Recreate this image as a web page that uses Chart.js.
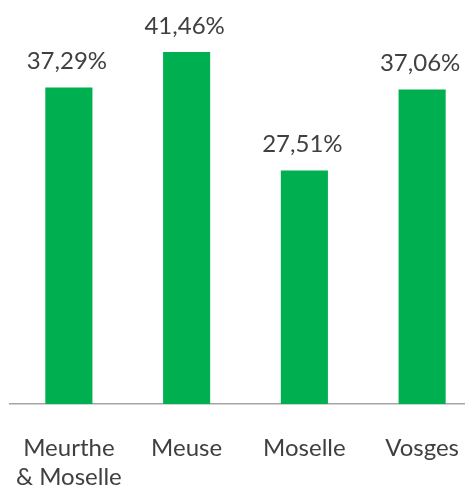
<!DOCTYPE html>
<html>
<head>
<meta charset="utf-8">
<script src="https://cdn.jsdelivr.net/npm/chart.js@4.4.1/dist/chart.umd.min.js"></script>
<style>
  html, body { margin: 0; padding: 0; background: #fff; overflow: hidden; }
  #wrap { position: absolute; left: 0; top: 0; width: 481px; height: 488px; }
</style>
</head>
<body>
<div id="wrap"><canvas id="chart" width="481" height="488"></canvas></div>
<script>
const categories = [['Meurthe', '& Moselle'], 'Meuse', 'Moselle', 'Vosges'];
const values = [37.29, 41.46, 27.51, 37.06];
const valueLabels = ['37,29%', '41,46%', '27,51%', '37,06%'];

const textColor = '#404040';
const fontFamily = 'Lato, "Open Sans", sans-serif';

// draw the percent above each bar
const valueLabelPlugin = {
    id: 'valueLabels',
    afterDatasetsDraw(chart) {
        const ctx = chart.ctx;
        const meta = chart.getDatasetMeta(0);
        ctx.save();
        ctx.fillStyle = textColor;
        ctx.font = '24px ' + fontFamily;
        ctx.textAlign = 'center';
        ctx.textBaseline = 'alphabetic';
        meta.data.forEach((bar, i) => {
            ctx.fillText(valueLabels[i], bar.x - 2, bar.y - 18);
        });
        ctx.restore();
    }
};

new Chart(document.getElementById('chart').getContext('2d'), {
    type: 'bar',
    data: {
        labels: categories,
        datasets: [{
            data: values,
            backgroundColor: '#00B050',
            borderWidth: 0,
            barPercentage: 1,
            categoryPercentage: 0.4
        }]
    },
    options: {
        responsive: false,
        animation: false,
        layout: { padding: { left: 10, right: 0, top: 22, bottom: 0 } },
        plugins: {
            legend: { display: false },
            tooltip: { enabled: false }
        },
        scales: {
            y: {
                display: false,
                min: 0,
                max: 45
            },
            x: {
                grid: { display: false },
                border: { display: true, color: '#a6a6a6', width: 1.5 },
                ticks: {
                    color: textColor,
                    font: { family: fontFamily, size: 24, lineHeight: 1.2 },
                    padding: 22,
                    maxRotation: 0,
                    autoSkip: false
                },
                afterFit: (scale) => {
                    scale.height = 84;
                    scale.paddingLeft = 0;  // labels may spill, like the original
                    scale.paddingRight = 0;
                }
            }
        }
    },
    plugins: [valueLabelPlugin]
});
</script>
</body>
</html>
